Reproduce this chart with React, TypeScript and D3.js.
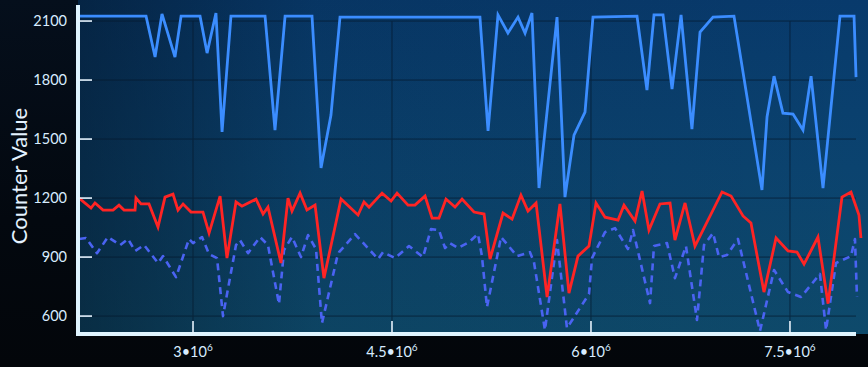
import React from 'react';
import * as d3 from 'd3';

// x in millions, y = counter value
const topSeries: [number, number][] = [
  [2.141, 2125], [2.646, 2125], [2.714, 1917], [2.766, 2136], [2.864, 1917], [2.910, 2125],
  [3.053, 2125], [3.106, 1937], [3.173, 2141], [3.219, 1536], [3.286, 2125], [3.543, 2125],
  [3.618, 1546], [3.694, 2125], [3.897, 2125], [3.965, 1353], [4.040, 1622], [4.108, 2120],
  [5.163, 2120], [5.224, 1541], [5.299, 2131], [5.374, 2039], [5.450, 2120], [5.503, 2039],
  [5.555, 2141], [5.608, 1251], [5.744, 2120], [5.804, 1205], [5.872, 1520], [5.955, 1637],
  [6.015, 2120], [6.347, 2125], [6.422, 1749], [6.475, 2131], [6.543, 2131], [6.611, 1754],
  [6.679, 2131], [6.761, 1551], [6.822, 2044], [6.920, 2120], [7.078, 2125], [7.289, 1241],
  [7.327, 1612], [7.380, 1820], [7.447, 1632], [7.523, 1627], [7.598, 1546], [7.659, 1820],
  [7.749, 1251], [7.877, 2125], [7.983, 2125], [7.998, 1815],
];

const redSeries: [number, number][] = [
  [2.141, 1200], [2.231, 1149], [2.261, 1175], [2.322, 1139], [2.397, 1139], [2.442, 1164],
  [2.480, 1139], [2.563, 1139], [2.570, 1200], [2.608, 1170], [2.668, 1170], [2.736, 1053],
  [2.789, 1205], [2.849, 1220], [2.887, 1139], [2.925, 1170], [2.985, 1129], [3.075, 1129],
  [3.121, 1022], [3.204, 1210], [3.256, 895], [3.324, 1180], [3.369, 1159], [3.475, 1195],
  [3.528, 1119], [3.565, 1154], [3.663, 870], [3.716, 1200], [3.746, 1134], [3.807, 1225],
  [3.859, 1139], [3.920, 1164], [3.987, 793], [4.116, 1195], [4.244, 1114], [4.289, 1180],
  [4.327, 1154], [4.425, 1225], [4.493, 1185], [4.538, 1225], [4.621, 1164], [4.673, 1164],
  [4.749, 1210], [4.802, 1098], [4.854, 1098], [4.907, 1195], [4.975, 1154], [5.028, 1195],
  [5.118, 1129], [5.194, 1119], [5.239, 890], [5.337, 1124], [5.405, 1093], [5.472, 1215],
  [5.525, 1134], [5.586, 1175], [5.669, 697], [5.766, 1170], [5.834, 717], [5.902, 905],
  [5.985, 956], [6.038, 1175], [6.106, 1103], [6.204, 1088], [6.249, 1164], [6.332, 1083],
  [6.385, 1236], [6.437, 1037], [6.520, 1170], [6.596, 1175], [6.633, 986], [6.709, 1175],
  [6.784, 956], [6.988, 1231], [7.056, 1210], [7.146, 1109], [7.206, 1073], [7.304, 722],
  [7.395, 997], [7.485, 931], [7.553, 925], [7.606, 864], [7.711, 1002], [7.787, 663],
  [7.892, 1205], [7.960, 1231], [8.020, 1114], [8.035, 997],
];

const dashedSeries: [number, number][] = [
  [2.141, 992], [2.193, 997], [2.276, 920], [2.359, 1002], [2.450, 961], [2.510, 992],
  [2.563, 931], [2.631, 961], [2.736, 870], [2.774, 905], [2.872, 798], [2.970, 992],
  [3.000, 971], [3.068, 1002], [3.121, 915], [3.181, 895], [3.226, 600], [3.324, 961],
  [3.354, 986], [3.415, 920], [3.505, 1002], [3.565, 961], [3.648, 661], [3.686, 936],
  [3.746, 1002], [3.814, 900], [3.867, 1012], [3.927, 941], [3.972, 564], [4.085, 895],
  [4.101, 925], [4.221, 1017], [4.395, 890], [4.432, 925], [4.523, 895], [4.628, 956],
  [4.734, 900], [4.794, 1042], [4.854, 1037], [4.900, 946], [4.937, 971], [4.998, 946],
  [5.081, 976], [5.148, 1017], [5.178, 905], [5.216, 646], [5.322, 1002], [5.442, 905],
  [5.540, 925], [5.570, 875], [5.653, 529], [5.744, 986], [5.819, 539], [5.985, 712],
  [6.008, 895], [6.106, 1027], [6.181, 1047], [6.279, 941], [6.317, 1037], [6.445, 666],
  [6.475, 956], [6.573, 971], [6.633, 793], [6.716, 956], [6.799, 580], [6.852, 961],
  [6.920, 1022], [6.965, 900], [7.025, 910], [7.108, 992], [7.274, 524], [7.380, 834],
  [7.485, 722], [7.583, 697], [7.726, 814], [7.772, 529], [7.847, 870], [7.960, 905],
  [7.990, 992], [8.005, 697],
];

const xTicks = [3, 4.5, 6, 7.5];
const xTickLabels = ['3', '4.5', '6', '7.5'];
const yTicks = [600, 900, 1200, 1500, 1800, 2100];

const W = 868;
const H = 367;
const AX_X = 78;
const AX_Y = 334;

const App: React.FC = () => {
  const x = d3.scaleLinear().domain([2.133, 8.043]).range([AX_X, 862]);
  const y = d3.scaleLinear().domain([514, 2207]).range([333, 0]);
  const line = d3.line<[number, number]>().x(d => x(d[0])).y(d => y(d[1]));

  const font = 'Lato, "Open Sans", sans-serif';
  const tickColor = '#d8ecff';

  return (
    <div style={{ position: 'fixed', left: 0, top: 0 }}>
      <svg width={W} height={H} style={{ display: 'block' }}>
        <defs>
          <linearGradient id="outerBg" x1="0" y1="0" x2="0" y2="1">
            <stop offset="0" stopColor="#050f1c" />
            <stop offset="0.6" stopColor="#03080f" />
            <stop offset="1" stopColor="#03060a" />
          </linearGradient>
          <linearGradient id="plotBg" x1="0" y1="0" x2="0" y2="1">
            <stop offset="0" stopColor="#083a6c" />
            <stop offset="0.5" stopColor="#0b436f" />
            <stop offset="1" stopColor="#0e4a6b" />
          </linearGradient>
          <linearGradient id="plotShade" x1="0" y1="0" x2="1" y2="0">
            <stop offset="0" stopColor="#020a14" stopOpacity="0.45" />
            <stop offset="0.3" stopColor="#020a14" stopOpacity="0.1" />
            <stop offset="1" stopColor="#020a14" stopOpacity="0" />
          </linearGradient>
        </defs>

        <rect x={0} y={0} width={W} height={H} fill="url(#outerBg)" />
        <rect x={AX_X} y={0} width={W - AX_X} height={AX_Y} fill="url(#plotBg)" />
        <rect x={AX_X} y={0} width={W - AX_X} height={AX_Y} fill="url(#plotShade)" />

        {/* grid */}
        <g stroke="#061a2e" strokeWidth={1} opacity={0.7}>
          {yTicks.map(t => (
            <line key={'gy' + t} x1={AX_X} x2={856} y1={y(t)} y2={y(t)} />
          ))}
          {xTicks.map(t => (
            <line key={'gx' + t} x1={x(t)} x2={x(t)} y1={y(2100)} y2={AX_Y} />
          ))}
        </g>

        {/* series */}
        <path d={line(dashedSeries) || ''} fill="none" stroke="#4a63f2" strokeWidth={2.6}
          strokeDasharray="7,5" strokeLinejoin="round" />
        <path d={line(redSeries) || ''} fill="none" stroke="#ff2424" strokeWidth={2.8}
          strokeLinejoin="miter" />
        <path d={line(topSeries) || ''} fill="none" stroke="#3b8dff" strokeWidth={2.8}
          strokeLinejoin="miter" />

        {/* axes */}
        <line x1={AX_X} x2={AX_X} y1={5} y2={AX_Y + 2} stroke="#dff4ff" strokeWidth={4} />
        <line x1={AX_X - 2} x2={856} y1={AX_Y} y2={AX_Y} stroke="#dff4ff" strokeWidth={4} />

        {yTicks.map(t => (
          <g key={'yt' + t}>
            <line x1={AX_X} x2={AX_X + 14} y1={y(t)} y2={y(t)} stroke="#e6f4ff" strokeWidth={1.6} />
            <text x={67} y={y(t)} dy="0.35em" textAnchor="end" fill={tickColor}
              fontFamily={font} fontSize={14.5}>{t}</text>
          </g>
        ))}

        {xTicks.map((t, i) => (
          <g key={'xt' + t}>
            <line x1={x(t)} x2={x(t)} y1={AX_Y} y2={AX_Y - 13} stroke="#e6f4ff" strokeWidth={1.6} />
            <text x={x(t)} y={357} textAnchor="middle" fill={tickColor} fontFamily={font} fontSize={14.5}>
              {xTickLabels[i]}•10<tspan dy={-6} fontSize={10}>6</tspan>
            </text>
          </g>
        ))}

        <text transform={`translate(27,${176}) rotate(-90)`} textAnchor="middle" fill="#e4f2ff"
          fontFamily={font} fontSize={22}>Counter Value</text>
      </svg>
    </div>
  );
};

export default App;
